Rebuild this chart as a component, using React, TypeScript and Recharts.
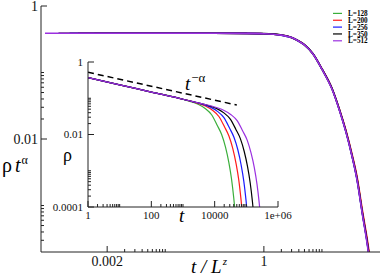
import { LineChart, Line, XAxis, YAxis } from 'recharts';

const FONT = '"Liberation Serif", "Times New Roman", serif';
const AXIS = '#222';

const labels = ['L=128', 'L=200', 'L=256', 'L=350', 'L=512'];
const colors = ['#3aae3a', '#ff1a1a', '#1a1aff', '#000000', '#9b30e0'];

// main panel: rho * t^alpha against t / L^z
const collapse128 = [[1.2e-3, 0.39], [0.01, 0.39], [0.1, 0.389], [0.5, 0.387], [1, 0.383], [2, 0.365], [3, 0.334], [4, 0.294], [5, 0.259], [7, 0.19], [10, 0.112], [15, 0.056], [20, 0.0275], [26, 0.0129], [33, 0.0057], [40, 0.0026], [50, 7.6e-4], [60, 2.9e-4], [70, 1.1e-4]];
const collapse200 = [[6.3e-4, 0.39], [0.01, 0.39], [0.1, 0.389], [0.5, 0.387], [1, 0.383], [2, 0.366], [3, 0.336], [4, 0.296], [5, 0.261], [7, 0.192], [10, 0.114], [15, 0.057], [20, 0.028], [26, 0.0133], [33, 0.0059], [40, 0.0028], [50, 8.2e-4], [60, 3.2e-4], [70, 1.3e-4]];
const collapse256 = [[4.5e-4, 0.39], [0.01, 0.39], [0.1, 0.389], [0.5, 0.387], [1, 0.383], [2, 0.365], [3, 0.335], [4, 0.295], [5, 0.26], [7, 0.191], [10, 0.113], [15, 0.0565], [20, 0.0274], [26, 0.0127], [33, 0.0055], [40, 0.0025], [50, 7.3e-4], [60, 2.8e-4], [70, 1.05e-4]];
const collapse350 = [[2.9e-4, 0.39], [0.01, 0.39], [0.1, 0.389], [0.5, 0.387], [1, 0.384], [2, 0.367], [3, 0.337], [4, 0.297], [5, 0.262], [7, 0.192], [10, 0.113], [15, 0.0565], [20, 0.0276], [26, 0.0129], [33, 0.0056], [40, 0.0026], [50, 7.5e-4], [60, 2.9e-4], [70, 1.1e-4]];
const collapse512 = [[1.7e-4, 0.39], [0.01, 0.39], [0.1, 0.389], [0.5, 0.387], [1, 0.383], [2, 0.365], [3, 0.335], [4, 0.295], [5, 0.26], [7, 0.19], [10, 0.112], [15, 0.0555], [20, 0.0271], [26, 0.0126], [33, 0.0055], [40, 0.0025], [50, 7.2e-4], [60, 2.7e-4], [70, 1.0e-4]];
const collapse = [collapse128, collapse200, collapse256, collapse350, collapse512];

// inset: rho against t
const rho128 = [[1, 0.37], [10, 0.235], [100, 0.148], [1000, 0.094], [2000, 0.078], [3000, 0.068], [5000, 0.052], [8000, 0.035], [12000, 0.018], [16600, 0.01], [22000, 0.0045], [28000, 0.0017], [34000, 6e-4], [40000, 1.8e-4], [46000, 5e-5]];
const rho200 = [[1, 0.37], [10, 0.235], [100, 0.148], [1000, 0.094], [2000, 0.081], [3400, 0.0701], [5100, 0.0611], [8500, 0.0466], [13600, 0.0314], [20400, 0.0163], [28200, 0.0091], [37400, 0.0041], [47600, 0.00155], [57800, 5.5e-4], [68000, 1.6e-4], [78200, 4.5e-5]];
const rho256 = [[1, 0.37], [10, 0.235], [100, 0.148], [1000, 0.094], [2000, 0.081], [3000, 0.0747], [4900, 0.0651], [7350, 0.0568], [12250, 0.0434], [19600, 0.0292], [29400, 0.0151], [40670, 0.0084], [53900, 0.0038], [68600, 0.00144], [83300, 5.1e-4], [98000, 1.5e-4], [112700, 4.2e-5]];
const rho350 = [[1, 0.37], [10, 0.235], [100, 0.148], [1000, 0.094], [2000, 0.081], [3000, 0.0747], [5000, 0.0673], [7800, 0.0594], [11700, 0.0517], [19500, 0.0395], [31200, 0.0266], [46800, 0.0138], [64740, 0.0077], [85800, 0.0034], [109200, 0.0013], [132600, 4.6e-4], [156000, 1.4e-4], [179400, 3.9e-5]];
const rho512 = [[1, 0.37], [10, 0.235], [100, 0.148], [1000, 0.094], [2000, 0.081], [3000, 0.0747], [5000, 0.0673], [8000, 0.0613], [12800, 0.0538], [19200, 0.0468], [32000, 0.0358], [51200, 0.0241], [76800, 0.0125], [106240, 0.007], [140800, 0.0031], [179200, 0.0012], [217600, 4.2e-4], [256000, 1.26e-4], [294400, 3.5e-5]];
const rhoSeries = [rho128, rho200, rho256, rho350, rho512];
const powerLaw = [[1, 0.52], [50000, 0.065]];

const mainXMajor = [0.002, 1];
const mainXMinor = [0.004, 0.006, 0.008, 0.01, 0.012, 0.014, 0.016, 0.018, 0.02, 2, 3, 4, 5, 6, 7, 8, 9, 10];
const mainYMajor = [1, 0.01];
const mainYMinor = [0.02, 0.03, 0.04, 0.05, 0.06, 0.07, 0.08, 0.09, 0.1, 0.0003, 0.0004, 0.0005, 0.0006, 0.0007, 0.0008, 0.0009, 0.001];
const insetXMajor = [1, 100, 10000, 1000000];
const insetXMinor = [2, 3, 4, 5, 6, 7, 8, 9, 10, 200, 300, 400, 500, 600, 700, 800, 900, 1000, 20000, 30000, 40000, 50000, 60000, 70000, 80000, 90000, 100000];
const insetYMajor = [1, 0.01, 0.0001];
const insetYMinor = [0.02, 0.03, 0.04, 0.05, 0.06, 0.07, 0.08, 0.09, 0.1, 0.0002, 0.0003, 0.0004, 0.0005, 0.0006, 0.0007, 0.0008, 0.0009, 0.001];

const toPts = (arr: number[][]) => arr.map(([x, y]) => ({ x, y }));
const fmt = (v: number) => (v === 1000000 ? '1e+06' : String(v));

function XTick(props: any) {
  const { x, y, payload, majors, fontSize, gap } = props;
  const isMajor = majors.includes(payload.value);
  return (
    <g>
      <line x1={x} x2={x} y1={y} y2={y - (isMajor ? 6 : 3)} stroke={AXIS} />
      {isMajor && (
        <text x={x} y={y + gap} textAnchor="middle" fontSize={fontSize} fontFamily={FONT} fill="#111">
          {fmt(payload.value)}
        </text>
      )}
    </g>
  );
}

function YTick(props: any) {
  const { x, y, payload, majors, fontSize, gap } = props;
  const isMajor = majors.includes(payload.value);
  return (
    <g>
      <line x1={x} x2={x + (isMajor ? 6 : 3)} y1={y} y2={y} stroke={AXIS} />
      {isMajor && (
        <text x={x - gap} y={y + fontSize * 0.35} textAnchor="end" fontSize={fontSize} fontFamily={FONT} fill="#111">
          {fmt(payload.value)}
        </text>
      )}
    </g>
  );
}

function Inset() {
  return (
    <LineChart width={255} height={175} margin={{ top: 7, right: 22, bottom: 0, left: 0 }}>
      <XAxis
        dataKey="x"
        type="number"
        scale="log"
        domain={[1, 1000000]}
        allowDataOverflow
        ticks={[...insetXMajor, ...insetXMinor]}
        interval={0}
        tickSize={0}
        tickMargin={0}
        tickLine={false}
        height={23}
        axisLine={{ stroke: AXIS }}
        tick={(p: any) => <XTick {...p} majors={insetXMajor} fontSize={11} gap={12} />}
      />
      <YAxis
        type="number"
        scale="log"
        domain={[0.0001, 1]}
        allowDataOverflow
        ticks={[...insetYMajor, ...insetYMinor]}
        interval={0}
        tickSize={0}
        tickMargin={0}
        tickLine={false}
        width={43}
        axisLine={{ stroke: AXIS }}
        tick={(p: any) => <YTick {...p} majors={insetYMajor} fontSize={11} gap={5} />}
      />
      <XAxis xAxisId="top" orientation="top" height={0} tick={false} tickLine={false} axisLine={{ stroke: AXIS }} />
      <YAxis yAxisId="right" orientation="right" width={0} tick={false} tickLine={false} axisLine={{ stroke: AXIS }} />
      {rhoSeries.map((s, i) => (
        <Line key={labels[i]} data={toPts(s)} dataKey="y" type="monotone" stroke={colors[i]} strokeWidth={1.2} dot={false} isAnimationActive={false} />
      ))}
      <Line data={toPts(powerLaw)} dataKey="y" type="linear" stroke="#000" strokeWidth={1.5} strokeDasharray="6 4" dot={false} isAnimationActive={false} />
      <text x={18} y={106} fontSize={18} fontFamily={FONT}>ρ</text>
      <text x={134} y={167} fontSize={19} fontStyle="italic" fontFamily={FONT}>t</text>
      <text x={140} y={35} fontSize={19} fontFamily={FONT}>
        <tspan fontStyle="italic">t</tspan>
        <tspan dx={1} dy={-8} fontSize={13}>−α</tspan>
      </text>
    </LineChart>
  );
}

export default function App() {
  return (
    <div style={{ position: 'absolute', left: 0, top: 0, width: 382, height: 277, background: '#fff' }}>
      <LineChart width={382} height={277} margin={{ top: 6, right: 2, bottom: 0, left: 0 }}>
        <XAxis
          dataKey="x"
          type="number"
          scale="log"
          domain={[1.45e-4, 100]}
          allowDataOverflow
          ticks={[...mainXMajor, ...mainXMinor]}
          interval={0}
          tickSize={0}
          tickMargin={0}
          tickLine={false}
          height={25}
          axisLine={{ stroke: AXIS }}
          tick={(p: any) => <XTick {...p} majors={mainXMajor} fontSize={14} gap={14} />}
        />
        <YAxis
          type="number"
          scale="log"
          domain={[2e-4, 1]}
          allowDataOverflow
          ticks={[...mainYMajor, ...mainYMinor]}
          interval={0}
          tickSize={0}
          tickMargin={0}
          tickLine={false}
          width={41}
          axisLine={{ stroke: AXIS }}
          tick={(p: any) => <YTick {...p} majors={mainYMajor} fontSize={14} gap={3} />}
        />
        <XAxis xAxisId="top" orientation="top" height={0} tick={false} tickLine={false} axisLine={{ stroke: AXIS }} />
        <YAxis yAxisId="right" orientation="right" width={0} tick={false} tickLine={false} axisLine={{ stroke: AXIS }} />
        {collapse.map((s, i) => (
          <Line key={labels[i]} data={toPts(s)} dataKey="y" type="monotone" stroke={colors[i]} strokeWidth={1.6} dot={false} isAnimationActive={false} />
        ))}
        <text x={2} y={172} fontSize={20} fontFamily={FONT}>
          ρ<tspan dx={3} fontStyle="italic">t</tspan>
          <tspan dx={1} dy={-8} fontSize={12}>α</tspan>
        </text>
        <text x={191} y={273} fontSize={19} fontFamily={FONT}>
          <tspan fontStyle="italic">t / L</tspan>
          <tspan dx={1} dy={-8} fontSize={11} fontStyle="italic">z</tspan>
        </text>
        {labels.map((l, i) => (
          <g key={l}>
            <line x1={333} x2={342} y1={13.4 + i * 6.85} y2={13.4 + i * 6.85} stroke={colors[i]} strokeWidth={1.2} />
            <text x={348} y={16.0 + i * 6.85} fontSize={7.2} fontWeight="bold" fontFamily={FONT}>{l}</text>
          </g>
        ))}
      </LineChart>
      <div style={{ position: 'absolute', left: 45, top: 55 }}>
        <Inset />
      </div>
    </div>
  );
}
